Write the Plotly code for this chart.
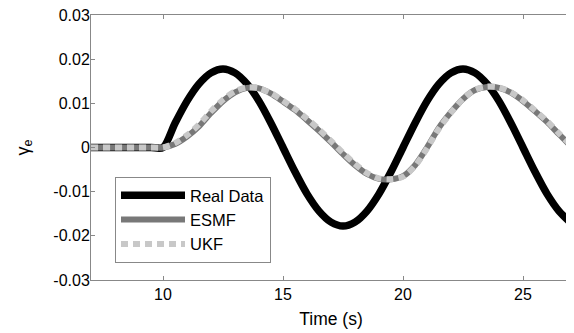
import plotly.graph_objects as go

time_s = [7.0, 7.5, 8.0, 8.5, 9.0, 9.5, 10.0, 10.5, 11.0, 11.5, 12.0, 12.5, 13.0, 13.5,
          14.0, 14.5, 15.0, 15.5, 16.0, 16.5, 17.0, 17.5, 18.0, 18.5, 19.0, 19.5,
          20.0, 20.5, 21.0, 21.5, 22.0, 22.5, 23.0, 23.5, 24.0, 24.5, 25.0, 25.5,
          26.0, 26.5, 27.0]

real_data = [0, 0, 0, 0, 0, 0, 0, 0.0055, 0.0105, 0.0144, 0.0169, 0.0178, 0.0169, 0.0144,
             0.0105, 0.0055, 0.0, -0.0055, -0.0105, -0.0144, -0.0169, -0.0178, -0.0169,
             -0.0144, -0.0105, -0.0055, 0.0, 0.0055, 0.0105, 0.0144, 0.0169, 0.0178,
             0.0169, 0.0144, 0.0105, 0.0055, 0.0, -0.0055, -0.0105, -0.0144, -0.0171]

esmf = [0, 0, 0, 0, 0, 0, 0, 0.0008, 0.0025, 0.0048, 0.0078, 0.0105, 0.0125, 0.0135,
        0.0134, 0.0122, 0.0104, 0.0085, 0.0062, 0.0038, 0.0012, -0.0015, -0.0040,
        -0.0060, -0.0071, -0.0072, -0.0065, -0.0040, 0.0000, 0.0045, 0.0080, 0.0110,
        0.0130, 0.0137, 0.0135, 0.0124, 0.0105, 0.0082, 0.0058, 0.0030, 0.0003]

ukf = [0, 0, 0, 0, 0, 0, 0, 0.0010, 0.0028, 0.0052, 0.0082, 0.0108, 0.0127, 0.0136,
       0.0134, 0.0123, 0.0106, 0.0087, 0.0065, 0.0041, 0.0015, -0.0012, -0.0037,
       -0.0058, -0.0070, -0.0072, -0.0066, -0.0042, -0.0002, 0.0043, 0.0079, 0.0110,
       0.0131, 0.0138, 0.0136, 0.0125, 0.0107, 0.0084, 0.0060, 0.0032, 0.0005]

y_ticks = [-0.03, -0.02, -0.01, 0, 0.01, 0.02, 0.03]
y_tick_labels = ["-0.03", "-0.02", "-0.01", "0", "0.01", "0.02", "0.03"]
x_ticks = [10, 15, 20, 25]

FONT = "Liberation Sans, Arial, sans-serif"

fig = go.Figure()
fig.add_trace(go.Scatter(x=time_s, y=real_data, name="Real Data", mode="lines",
                         line=dict(color="black", width=7.5, shape="spline", smoothing=0.8)))
fig.add_trace(go.Scatter(x=time_s, y=esmf, name="ESMF", mode="lines",
                         line=dict(color="#787878", width=6, shape="spline", smoothing=0.8)))
fig.add_trace(go.Scatter(x=time_s, y=ukf, name="UKF", mode="lines",
                         line=dict(color="#c8c8c8", width=6, dash="7px,5px",
                                   shape="spline", smoothing=0.8)))

axis_common = dict(showline=True, linecolor="#888888", linewidth=1, mirror="ticks",
                   ticks="inside", ticklen=4, tickcolor="#888888", showgrid=False,
                   zeroline=False, automargin=False, ticklabeloverflow="allow",
                   tickfont=dict(family=FONT, size=16, color="black"))

fig.update_xaxes(range=[7, 27], tickvals=x_ticks, ticktext=[str(v) for v in x_ticks],
                 title=dict(text="Time (s)", font=dict(family=FONT, size=17.5, color="black"),
                            standoff=10),
                 **axis_common)
fig.update_yaxes(range=[-0.03, 0.03], tickvals=y_ticks, ticktext=y_tick_labels,
                 ticklabelstandoff=-3,
                 title=dict(text="γ<sub>e</sub>", font=dict(family=FONT, size=18, color="black"),
                            standoff=19),
                 **axis_common)

# The page body adds an 8px offset; size and margins compensate for it.
fig.update_layout(
    width=566, height=325,
    margin=dict(l=83, r=3, t=7, b=53),
    paper_bgcolor="white", plot_bgcolor="white",
    showlegend=True,
    legend=dict(x=0.05, y=0.389, xanchor="left", yanchor="top",
                bgcolor="white", bordercolor="#888888", borderwidth=1,
                font=dict(family=FONT, size=16.5, color="black"),
                itemwidth=64, tracegroupgap=0),
)

fig.write_html("out.html")
